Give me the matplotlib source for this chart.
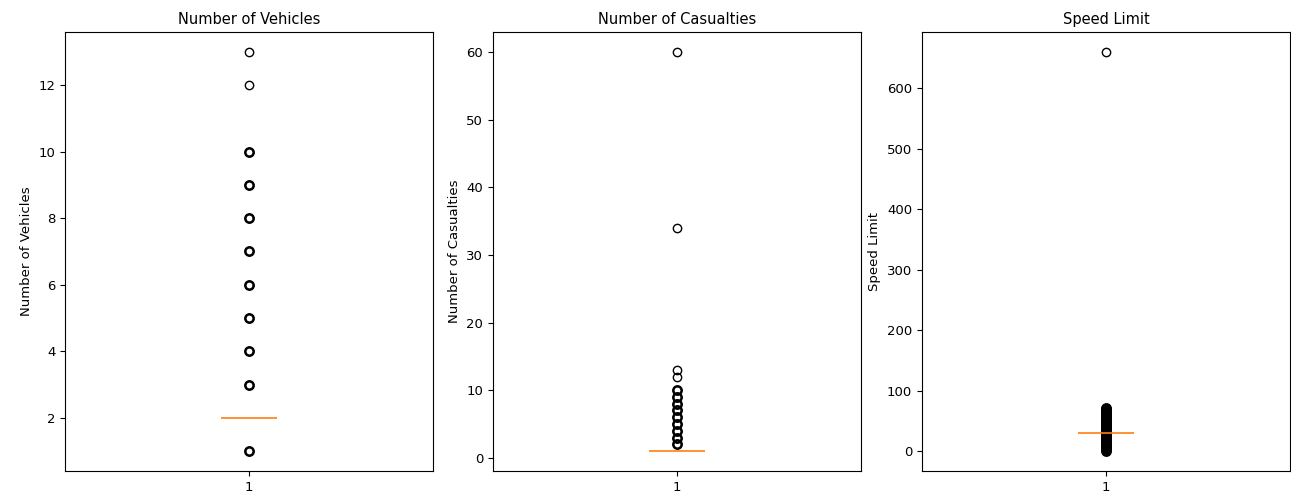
import matplotlib
matplotlib.use("Agg")
import matplotlib.pyplot as plt


# Dane (pudełka zdegenerowane: Q1 = mediana = Q3)
titles = ["Number of Vehicles", "Number of Casualties", "Speed Limit"]
medians = [2, 1, 30]
# wartości odstające występujące często (rysowane grubszym konturem)
vehicles_frequent = [1, 3, 4, 5, 6, 7, 8, 9, 10]
vehicles_rare = [12, 13]
casualties_frequent = [2, 3, 4, 5, 6, 7, 8, 9, 10]
casualties_rare = [12, 13, 34, 60]
speed_frequent = [0, 3, 5, 8, 10, 12, 15, 18, 20, 22, 25, 28, 32, 35, 38, 40,
                  42, 45, 48, 50, 52, 55, 58, 60, 62, 65, 68, 70, 72]
speed_rare = [660]
frequent = [vehicles_frequent, casualties_frequent, speed_frequent]
rare = [vehicles_rare, casualties_rare, speed_rare]


# Funkcja budująca statystyki dla ax.bxp
def make_stats(med, outliers, label):
    return {"med": med, "q1": med, "q3": med, "whislo": med, "whishi": med,
            "fliers": outliers, "label": label}


fig = plt.figure(figsize=(12.91, 4.98), dpi=100)
lefts = [65 / 1291, 493 / 1291, 922 / 1291]
width = 368 / 1291
bottom = 27 / 498
height = 439 / 498

for i in range(3):
    ax = fig.add_axes([lefts[i], bottom, width, height])
    stats = make_stats(medians[i], frequent[i] + rare[i], "1")
    ax.bxp([stats], showbox=False, showcaps=False,
           whiskerprops={"linewidth": 0},
           medianprops={"color": "#ff7f0e", "linewidth": 1.2, "zorder": 4},
           flierprops={"marker": "o", "markerfacecolor": "none",
                       "markeredgecolor": "black", "markersize": 6})
    # częste wartości – grubszy kontur jak w oryginale
    ax.plot([1] * len(frequent[i]), frequent[i], "o", markerfacecolor="none",
            markeredgecolor="black", markersize=6, markeredgewidth=1.8,
            zorder=3)
    ax.set_title(titles[i], fontsize=10.5)
    ax.set_ylabel(titles[i], fontsize=9.5)
    ax.tick_params(labelsize=9.5)

fig.savefig("out.png", dpi=100)
